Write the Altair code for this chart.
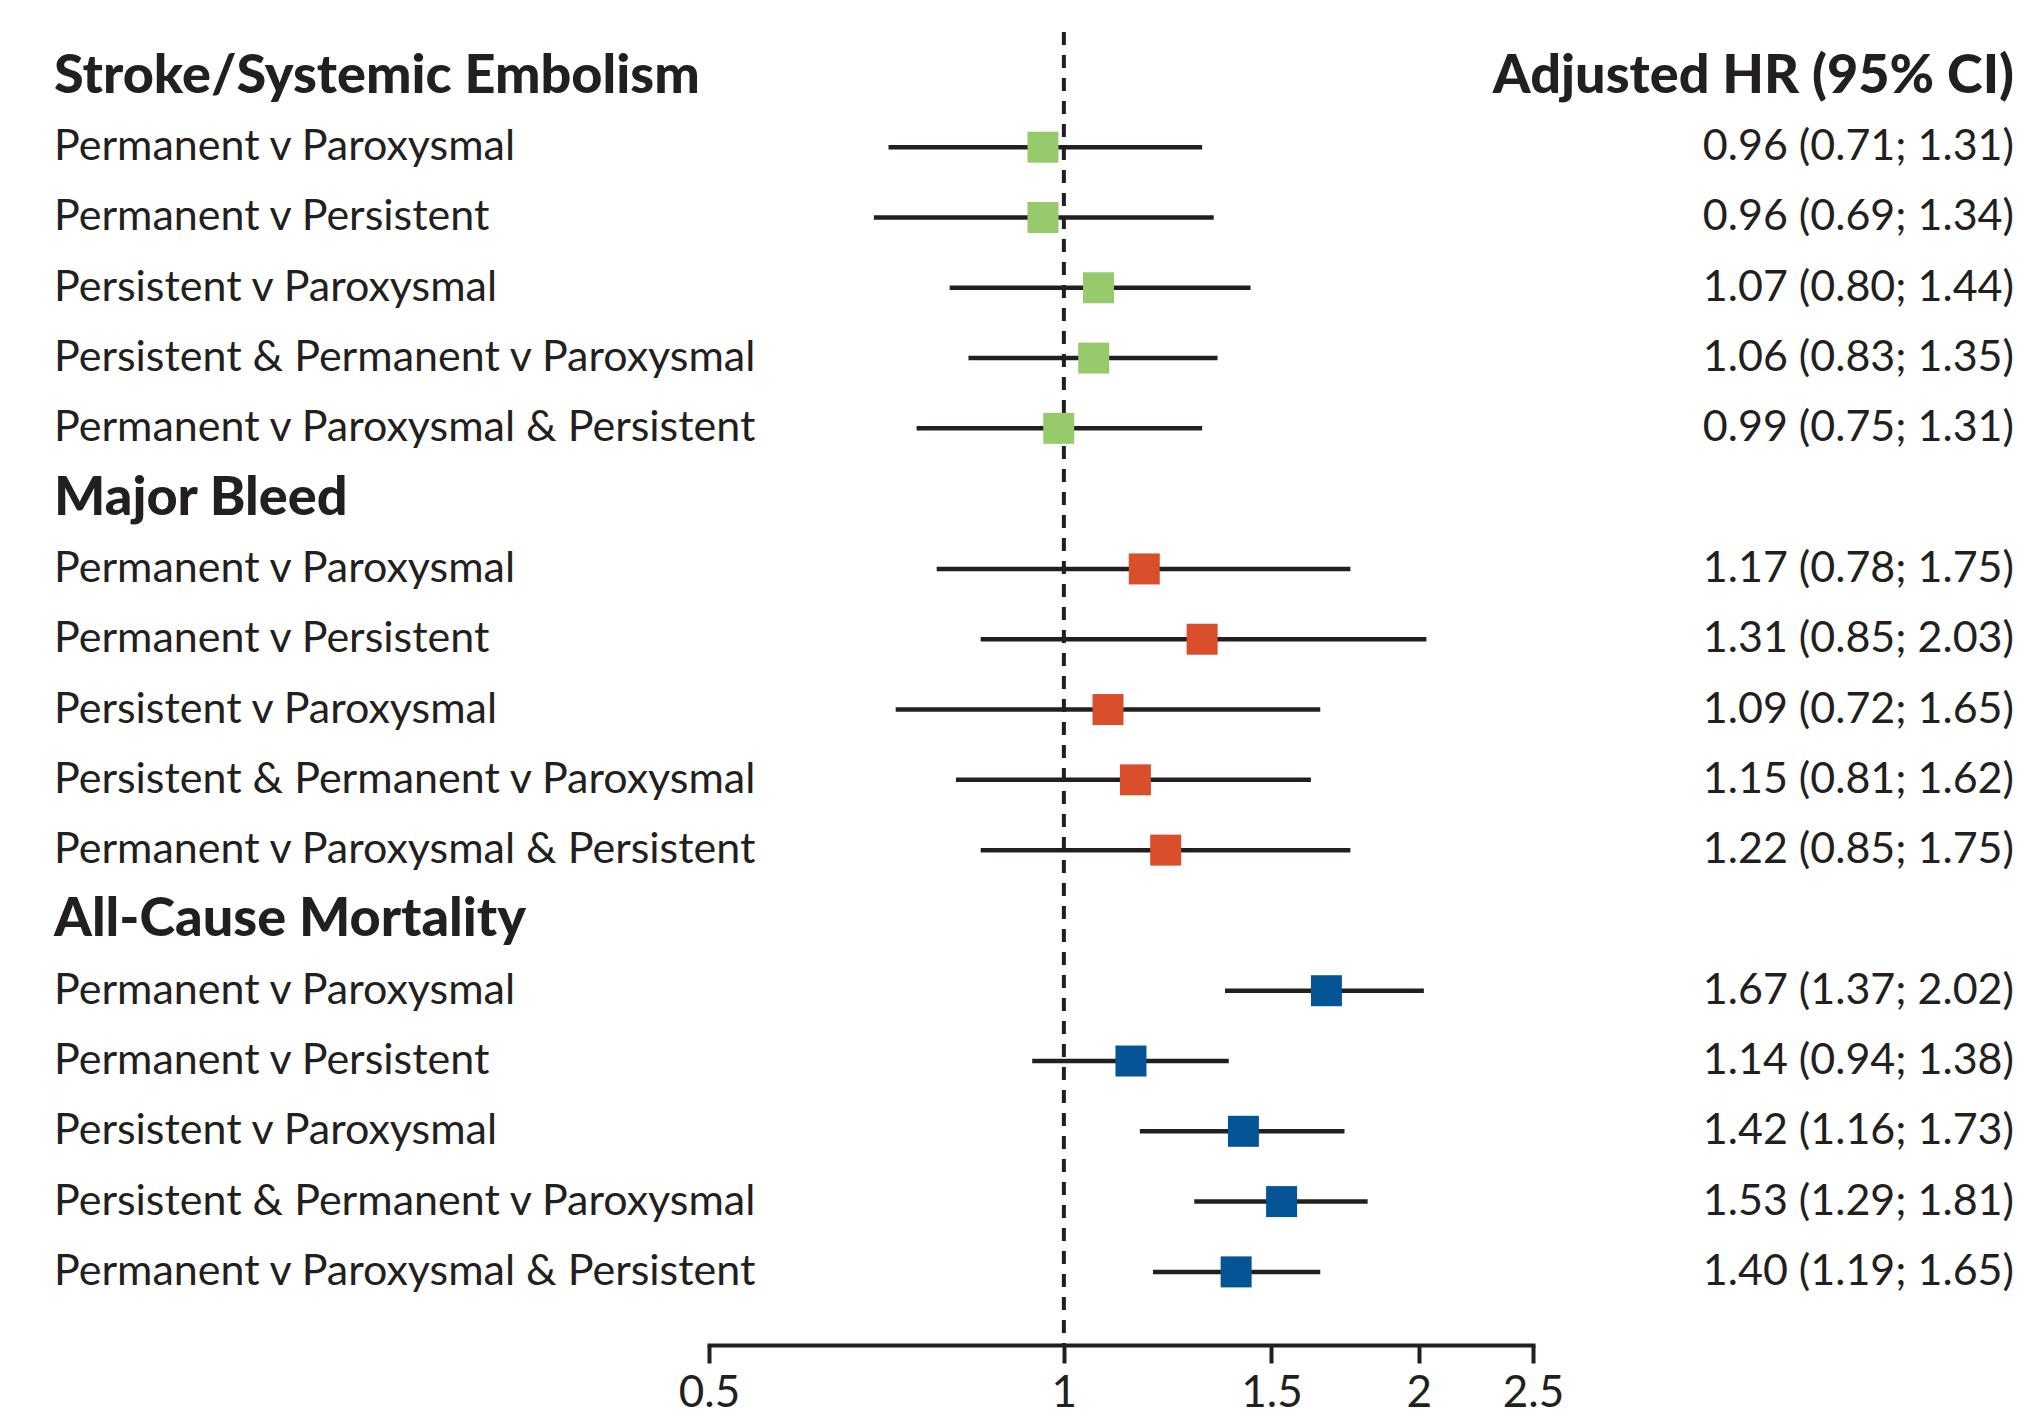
import altair as alt
import pandas as pd

groups = ["Stroke/Systemic Embolism", "Major Bleed", "All-Cause Mortality"]
comparisons = [
    "Permanent v Paroxysmal",
    "Permanent v Persistent",
    "Persistent v Paroxysmal",
    "Persistent & Permanent v Paroxysmal",
    "Permanent v Paroxysmal & Persistent",
]
hr = [0.96, 0.96, 1.07, 1.06, 0.99,
      1.17, 1.31, 1.09, 1.15, 1.22,
      1.67, 1.14, 1.42, 1.53, 1.40]
lo = [0.71, 0.69, 0.80, 0.83, 0.75,
      0.78, 0.85, 0.72, 0.81, 0.85,
      1.37, 0.94, 1.16, 1.29, 1.19]
hi = [1.31, 1.34, 1.44, 1.35, 1.31,
      1.75, 2.03, 1.65, 1.62, 1.75,
      2.02, 1.38, 1.73, 1.81, 1.65]
group_colors = ["#96CA6A", "#D94F2B", "#045496"]
x_ticks = [0.5, 1, 1.5, 2, 2.5]
header_right = "Adjusted HR (95% CI)"

# build tables
rows, heads = [], []
r = 0
k = 0
for g in groups:
    heads.append({"row": r, "label": g})
    r += 1
    for c in comparisons:
        rows.append({"row": r, "group": g, "label": c, "hr": hr[k], "lo": lo[k], "hi": hi[k],
                     "txt": f"{hr[k]:.2f} ({lo[k]:.2f}; {hi[k]:.2f})"})
        r += 1
        k += 1
df = pd.DataFrame(rows)
dh = pd.DataFrame(heads)
dref = pd.DataFrame({"x": [1.0]})
dright = pd.DataFrame([{"row": 0, "label": header_right}])

FONT = "Lato"
INK = "#231F20"
H = 1337
WA, WB, WC = 701, 824, 481
ROW_FS = 43
HEAD_FS = 54
yscale = alt.Scale(domain=[-0.98, 18.04], reverse=True, zero=False, nice=False)
Y = alt.Y("row:Q", scale=yscale, axis=None)

# left panel
left_items = alt.Chart(df).mark_text(align="left", baseline="middle", font=FONT, fontSize=ROW_FS,
                                     color=INK).encode(x=alt.value(46), y=Y, text="label:N")
left_heads = alt.Chart(dh).mark_text(align="left", baseline="middle", font=FONT, fontSize=HEAD_FS,
                                     fontWeight=900, color=INK).encode(x=alt.value(46), y=Y, text="label:N")
left = alt.layer(left_items, left_heads).properties(width=WA, height=H)

# middle panel
xscale = alt.Scale(type="log", domain=[0.5, 2.5], nice=False, zero=False)
xaxis = alt.Axis(values=x_ticks, format="~g", title=None, grid=False, domainWidth=4,
                 domainColor=INK, tickWidth=4, tickSize=18, tickColor=INK, labelFont=FONT,
                 labelFontSize=44, labelColor=INK, labelPadding=8, labelFlush=False,
                 domainCap="square")
ref = alt.Chart(dref).mark_rule(strokeDash=[13, 10], strokeWidth=4, color=INK).encode(
    x=alt.X("x:Q", scale=xscale, axis=xaxis), y=alt.value(24), y2=alt.value(H))
ci = alt.Chart(df).mark_rule(strokeWidth=4.5, color=INK).encode(
    x=alt.X("lo:Q", scale=xscale, axis=xaxis), x2="hi:Q", y=Y)
sq = alt.Chart(df).mark_square(size=961, opacity=1).encode(
    x=alt.X("hr:Q", scale=xscale, axis=xaxis), y=Y,
    color=alt.Color("group:N", scale=alt.Scale(domain=groups, range=group_colors), legend=None))
mid = alt.layer(ci, ref, sq).properties(width=WB, height=H)

# right panel
right_items = alt.Chart(df).mark_text(align="right", baseline="middle", font=FONT, fontSize=ROW_FS,
                                      color=INK).encode(x=alt.value(WC), y=Y, text="txt:N")
right_head = alt.Chart(dright).mark_text(align="right", baseline="middle", font=FONT, fontSize=HEAD_FS,
                                         fontWeight=900, color=INK).encode(x=alt.value(WC), y=Y, text="label:N")
right = alt.layer(right_items, right_head).properties(width=WC, height=H)

chart = alt.hconcat(left, mid, right, spacing=0, bounds="flush").properties(padding=0).configure_view(stroke=None)
chart.save("out.html", embed_options={"renderer": "svg", "actions": False})
